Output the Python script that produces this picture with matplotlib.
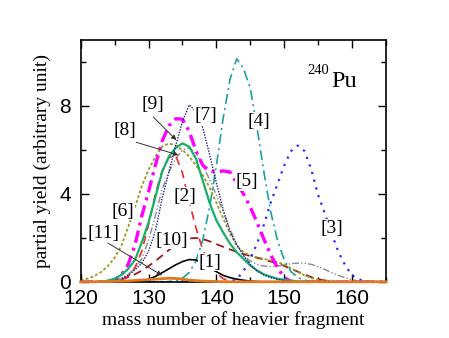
"""
Partial fission yields of 240Pu vs mass number of the heavier fragment
"""

import numpy as np
import matplotlib
matplotlib.use('Agg')
import matplotlib.pyplot as plt
from matplotlib.ticker import MultipleLocator

# mass number of heavier fragment, 120 ... 165
mass = np.arange(120, 166)

# partial yields (arbitrary unit), one value per mass number
yield_1 = [0, 0, 0, 0, 0, 0, 0, 0,
           0.02, 0.05, 0.12, 0.25, 0.42, 0.6, 0.78, 0.93, 1.02, 1.0, 0.85, 0.65,
           0.47, 0.3, 0.2, 0.13, 0.08, 0.04, 0.02] + [0] * 19
yield_2 = [0, 0, 0, 0, 0, 0,
           0.08, 0.25, 0.65, 1.4, 2.6, 4.0, 5.05, 5.65, 5.75, 4.95, 3.65, 2.45,
           1.45, 0.8, 0.4, 0.15, 0.05] + [0] * 23
yield_3 = [0] * 22 + [0.02, 0.12, 0.5, 1.05, 1.75, 2.6, 3.6, 4.45, 5.3, 5.95, 6.2,
                      5.95, 5.1, 3.95, 3.1, 2.2, 1.35, 0.75, 0.3, 0.12, 0.03, 0, 0, 0]
yield_4 = [0] * 13 + [0.02, 0.06, 0.17, 0.43, 0.96, 1.92, 3.4, 5.3, 7.45, 9.2, 10.15,
                      9.7, 8.8, 7.0, 5.0, 3.2, 1.9, 1.0, 0.47, 0.2, 0.08, 0.03,
                      0.01] + [0] * 10
yield_5 = [0, 0, 0, 0,
           0.02, 0.1, 0.32, 0.8, 1.68, 3.0, 4.1, 5.3, 6.4, 7.1, 7.42, 7.4, 6.85,
           5.95, 5.3, 5.05, 5.0, 5.05, 5.0, 4.5, 4.0, 3.4, 2.7, 1.95, 1.25, 0.65,
           0.2, 0.03] + [0] * 14
yield_6 = [0.08, 0.15, 0.27, 0.45, 0.72, 1.1, 1.65, 2.5, 3.4, 4.35, 5.1, 5.7, 6.15,
           6.3, 6.2, 6.0, 5.7, 5.3, 4.85, 4.3, 3.6, 2.9, 2.2, 1.65, 1.35, 1.2, 1.12,
           1.05, 0.98, 0.9, 0.8, 0.62, 0.45, 0.3, 0.18, 0.1, 0.05, 0.02] + [0] * 8
yield_7 = [0, 0, 0, 0,
           0.02, 0.06, 0.15, 0.3, 0.55, 0.85, 1.4, 2.3, 3.8, 5.0, 6.2, 7.3, 8.05,
           7.75, 7.0, 5.8, 4.5, 3.3, 2.3, 1.7, 1.2, 0.8, 0.5, 0.32, 0.2, 0.12, 0.07,
           0.03] + [0] * 14
yield_8 = [0, 0, 0, 0,
           0.03, 0.08, 0.18, 0.35, 0.62, 1.05, 1.9, 3.0, 4.2, 5.0, 5.6, 6.0, 6.1,
           5.85, 5.3, 4.65, 3.95, 3.2, 2.4, 1.7, 1.2, 0.95, 0.8, 0.72, 0.7, 0.72,
           0.78, 0.83, 0.86, 0.85, 0.8, 0.7, 0.57, 0.42, 0.3, 0.19, 0.1, 0.05,
           0.02, 0, 0, 0]
yield_9 = [0, 0, 0,
           0.02, 0.06, 0.15, 0.32, 0.6, 1.0, 1.8, 2.7, 3.85, 5.0, 5.7, 6.1, 6.3,
           6.15, 5.6, 4.6, 3.6, 2.8, 2.25, 1.75, 1.35, 1.05, 0.75, 0.52, 0.35, 0.24,
           0.15, 0.1, 0.06, 0.03] + [0] * 13
yield_10 = [0, 0, 0, 0,
            0.02, 0.06, 0.12, 0.22, 0.35, 0.52, 0.72, 0.95, 1.2, 1.45, 1.7, 1.88,
            1.98, 2.0, 1.95, 1.85, 1.72, 1.6, 1.48, 1.37, 1.27, 1.18, 1.1, 1.02,
            0.93, 0.84, 0.73, 0.6, 0.47, 0.34, 0.22, 0.13, 0.07, 0.03] + [0] * 8
yield_11 = [0.01, 0.01, 0.01, 0.02, 0.02, 0.03, 0.04, 0.05, 0.07, 0.09, 0.11, 0.13,
            0.15, 0.17, 0.16, 0.13, 0.09, 0.06, 0.04, 0.03, 0.02] + [0.01] * 25

labels = ['[1]', '[2]', '[3]', '[4]', '[5]', '[6]', '[7]', '[8]', '[9]', '[10]', '[11]']
label_x = [139.0, 135.4, 157.0, 146.2, 144.5, 126.2, 138.4, 126.5, 130.6, 133.4, 123.3]
label_y = [0.9, 3.9, 2.45, 7.3, 4.55, 3.2, 7.55, 6.9, 8.05, 1.9, 2.2]

# leader lines: label -> curve
arrow_from = {'[8]': (128.2, 6.35), '[9]': (130.7, 7.5), '[11]': (124.0, 1.77)}
arrow_to = {'[8]': (134.4, 5.77), '[9]': (134.1, 6.45), '[11]': (132.0, 0.3)}

SERIF = 'Liberation Serif'
SANS = 'Liberation Sans'

fig = plt.figure(figsize=(4.49, 3.38), dpi=100)
ax = fig.add_axes([0.1797, 0.1657, 0.680, 0.716])

# curves, drawn back to front
ax.plot(mass, yield_10, color='#9b1b1b', lw=1.3, ls=(0, (4.5, 3)))
ax.plot(mass, yield_6, color='#9a9a22', lw=1.3, ls=(0, (1.6, 1.2)))
ax.plot(mass, yield_8, color='#8c8c8c', lw=1.0, ls=(0, (5, 1.5, 1, 1.5, 1, 1.5)))
ax.plot(mass, yield_2, color='#f02828', lw=1.2, ls=(0, (5, 3.5)))
ax.plot(mass, yield_4, color='#1fa0a0', lw=1.2, ls=(0, (6, 2.5, 1.2, 2.5)))
ax.plot(mass, yield_3, color='#2a2aff', lw=1.6, ls=(0, (1, 2.6)))
ax.plot(mass, yield_5, color='#ff00ff', lw=2.4, ls=(0, (3.7, 1.6, 0.9, 1.6)))
ax.plot(mass, yield_9, color='#15b06a', lw=1.6)
ax.plot(mass, yield_7, color='#202090', lw=1.0, ls=(0, (1, 1)))
ax.plot(mass, yield_1, color='black', lw=1.2)
ax.plot(mass, yield_11, color='#e07820', lw=2.0, zorder=4, clip_on=False)

# labels with white boxes that hide the curves below them
for lab, lx, ly in zip(labels, label_x, label_y):
    ax.text(lx, ly, lab, fontsize=14, family=SERIF, ha='center', va='center',
            bbox=dict(fc='white', ec='none', pad=0.3), zorder=5)

for lab in arrow_from:
    ax.annotate('', xy=arrow_to[lab], xytext=arrow_from[lab], zorder=6,
                arrowprops=dict(arrowstyle='-|>', color='#333333', lw=0.7,
                                mutation_scale=7, shrinkA=0, shrinkB=0))

# nucleus label
ax.text(153.4, 9.45, '240', fontsize=10.5, family=SERIF, ha='left', va='baseline')
ax.text(156.95, 8.86, 'Pu', fontsize=17.5, family=SERIF, ha='left', va='baseline')

ax.set_xlim(120, 165)
ax.set_ylim(0, 11)
ax.xaxis.set_major_locator(MultipleLocator(10))
ax.xaxis.set_minor_locator(MultipleLocator(5))
ax.yaxis.set_major_locator(MultipleLocator(4))
ax.yaxis.set_minor_locator(MultipleLocator(2))
ax.tick_params(which='both', direction='in', top=True, right=True, width=1.0)
ax.tick_params(which='major', length=6, labelsize=15)
ax.tick_params(axis='y', which='major', pad=7)
ax.tick_params(axis='x', which='major', pad=5)
ax.tick_params(which='minor', length=3.5)
for t in ax.get_xticklabels() + ax.get_yticklabels():
    t.set_family(SANS)
for sp in ax.spines.values():
    sp.set_linewidth(1.2)

ax.set_xlabel('mass number of heavier fragment', fontsize=14, family=SERIF, labelpad=2)
ax.set_ylabel('partial yield (arbitrary unit)', fontsize=14, family=SERIF, labelpad=6)

fig.savefig('out.png', dpi=100)
